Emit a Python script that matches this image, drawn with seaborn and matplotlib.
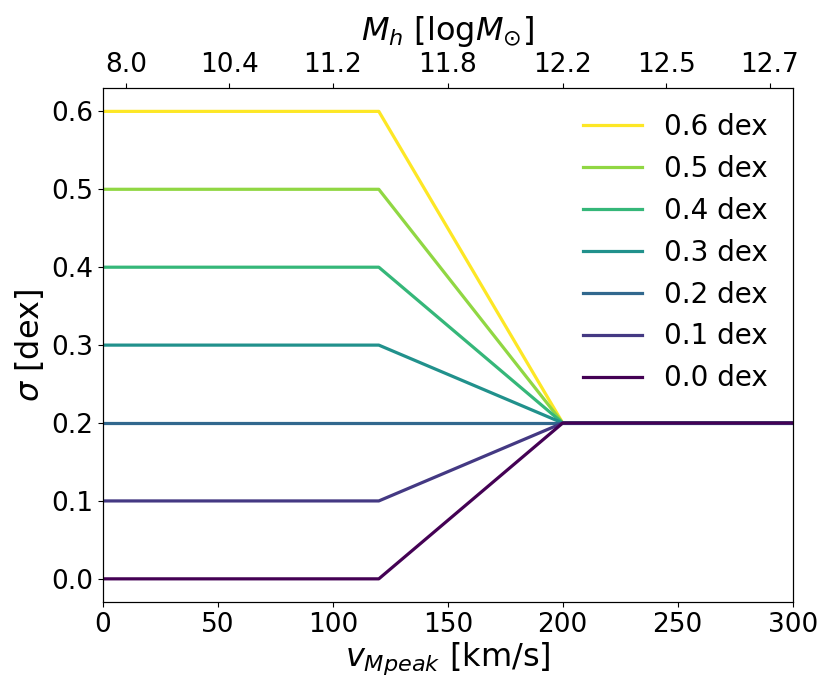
import numpy as np
import pandas as pd
import matplotlib
matplotlib.use('Agg')
import matplotlib.pyplot as plt
import seaborn as sns

# Data: scatter in dex below/above the break
sigma_low = [0.6, 0.5, 0.4, 0.3, 0.2, 0.1, 0.0]
vpeak = [0, 120, 200, 300]
sigma_high = 0.2

top_tick_pos = [10, 55, 100, 150, 200, 245, 290]
top_tick_labels = ['8.0', '10.4', '11.2', '11.8', '12.2', '12.5', '12.7']

rows = []
for s in sigma_low:
    ys = [s, s, sigma_high, sigma_high]
    for x, y in zip(vpeak, ys):
        rows.append({'vpeak': x, 'sigma': y, 'label': f'{s:.1f} dex'})
df = pd.DataFrame(rows)

labels = [f'{s:.1f} dex' for s in sigma_low]
cols = plt.cm.viridis(np.linspace(1, 0, len(sigma_low)))
palette = dict(zip(labels, cols))

fig = plt.figure(figsize=(8.3, 6.93), dpi=100)
ax = fig.add_axes([0.124, 0.131, 0.831, 0.742])

sns.lineplot(data=df, x='vpeak', y='sigma', hue='label', hue_order=labels,
             palette=palette, linewidth=2.3, ax=ax, sort=False, estimator=None)

ax.set_xlim(0, 300)
ax.set_ylim(-0.03, 0.63)
ax.set_xticks([0, 50, 100, 150, 200, 250, 300])
ax.set_yticks([0.0, 0.1, 0.2, 0.3, 0.4, 0.5, 0.6])
ax.tick_params(labelsize=19)
ax.set_xlabel(r'$v_{Mpeak}$ [km/s]', fontsize=23, labelpad=2)
ax.set_ylabel(r'$\sigma$ [dex]', fontsize=23)

ax2 = ax.twiny()
ax2.set_xlim(ax.get_xlim())
ax2.set_xticks(top_tick_pos)
ax2.set_xticklabels(top_tick_labels)
ax2.tick_params(labelsize=19)
ax2.set_xlabel(r'$M_h$ [log$M_{\odot}$]', fontsize=23, labelpad=9)

ax.legend(frameon=False, fontsize=20, loc='upper right', handlelength=2.1)

fig.savefig('out.png', dpi=100)
